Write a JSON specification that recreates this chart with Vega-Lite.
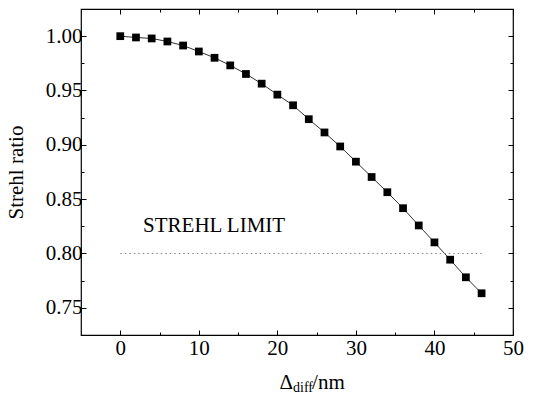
{
  "$schema": "https://vega.github.io/schema/vega-lite/v6.json",
  "width": 432,
  "height": 326,
  "autosize": {"type": "none"},
  "padding": {"left": 81, "top": 9, "right": 26, "bottom": 62},
  "background": "white",
  "config": {
    "view": {"stroke": "black", "strokeWidth": 1.2},
    "font": "Liberation Serif",
    "axis": {
      "domain": false,
      "grid": false,
      "tickColor": "black",
      "tickWidth": 1,
      "labelColor": "black",
      "labelFont": "Liberation Serif",
      "labelFontSize": 21,
      "titleFont": "Liberation Serif",
      "titleFontSize": 21,
      "titleFontWeight": "normal",
      "titleColor": "black"
    }
  },
  "datasets": {
    "strehl": [
      {"delta": 0, "ratio": 1.0},
      {"delta": 2, "ratio": 0.9988},
      {"delta": 4, "ratio": 0.9979},
      {"delta": 6, "ratio": 0.9951},
      {"delta": 8, "ratio": 0.9914},
      {"delta": 10, "ratio": 0.9859},
      {"delta": 12, "ratio": 0.9801},
      {"delta": 14, "ratio": 0.9731},
      {"delta": 16, "ratio": 0.9652},
      {"delta": 18, "ratio": 0.9563},
      {"delta": 20, "ratio": 0.9462},
      {"delta": 22, "ratio": 0.9364},
      {"delta": 24, "ratio": 0.9236},
      {"delta": 26, "ratio": 0.9114},
      {"delta": 28, "ratio": 0.8985},
      {"delta": 30, "ratio": 0.8845},
      {"delta": 32, "ratio": 0.8704},
      {"delta": 34, "ratio": 0.8564},
      {"delta": 36, "ratio": 0.8417},
      {"delta": 38, "ratio": 0.8258},
      {"delta": 40, "ratio": 0.8102},
      {"delta": 42, "ratio": 0.7943},
      {"delta": 44, "ratio": 0.7781},
      {"delta": 46, "ratio": 0.7634}
    ],
    "limit": [
      {"start": 0, "end": 46, "ratio": 0.8}
    ]
  },
  "layer": [
    {
      "data": {"name": "strehl"},
      "mark": {"type": "line", "color": "#333333", "strokeWidth": 1},
      "encoding": {
        "x": {
          "field": "delta", "type": "quantitative",
          "scale": {"domain": [-5, 50], "nice": false, "zero": false},
          "axis": {"orient": "bottom", "values": [0, 10, 20, 30, 40, 50], "tickSize": -5, "labelPadding": 7, "title": null, "labelFlush": false}
        },
        "y": {
          "field": "ratio", "type": "quantitative",
          "scale": {"domain": [0.725, 1.025], "nice": false, "zero": false},
          "axis": {"orient": "left", "values": [0.75, 0.8, 0.85, 0.9, 0.95, 1.0], "format": ".2f", "tickSize": -5, "labelPadding": 4, "title": "Strehl ratio", "titlePadding": 19, "labelFlush": false}
        }
      }
    },
    {
      "data": {"name": "strehl"},
      "mark": {"type": "point", "shape": "square", "filled": true, "color": "black", "size": 60, "opacity": 1},
      "encoding": {
        "x": {"field": "delta", "type": "quantitative", "scale": {"domain": [-5, 50], "nice": false, "zero": false}, "axis": null},
        "y": {"field": "ratio", "type": "quantitative", "scale": {"domain": [0.725, 1.025], "nice": false, "zero": false}, "axis": null}
      }
    },
    {
      "data": {"name": "limit"},
      "mark": {"type": "rule", "color": "#808080", "strokeWidth": 1, "strokeDash": [1.5, 3]},
      "encoding": {
        "x": {
          "field": "start", "type": "quantitative",
          "scale": {"domain": [-5, 50], "nice": false, "zero": false},
          "axis": {"orient": "top", "values": [0, 10, 20, 30, 40, 50], "tickSize": -5, "labels": false, "title": null}
        },
        "x2": {"field": "end"},
        "y": {
          "field": "ratio", "type": "quantitative",
          "scale": {"domain": [0.725, 1.025], "nice": false, "zero": false},
          "axis": {"orient": "right", "values": [0.75, 0.8, 0.85, 0.9, 0.95, 1.0], "tickSize": -5, "labels": false, "title": null}
        }
      }
    },
    {
      "data": {"values": [{}]},
      "mark": {"type": "text", "text": "STREHL LIMIT", "align": "left", "baseline": "alphabetic", "fontSize": 21, "font": "Liberation Serif", "color": "black"},
      "encoding": {
        "x": {
          "datum": 2.9, "type": "quantitative",
          "scale": {"domain": [-5, 50], "nice": false, "zero": false},
          "axis": {"orient": "bottom", "values": [5, 15, 25, 35, 45], "tickSize": -3, "labels": false, "title": null}
        },
        "y": {
          "datum": 0.8195, "type": "quantitative",
          "scale": {"domain": [0.725, 1.025], "nice": false, "zero": false},
          "axis": {"orient": "left", "values": [0.775, 0.825, 0.875, 0.925, 0.975], "tickSize": -3, "labels": false, "title": null}
        }
      }
    },
    {
      "data": {"values": [{}]},
      "mark": {"type": "text", "text": "Δ", "align": "right", "baseline": "alphabetic", "fontSize": 21, "font": "Liberation Serif", "color": "black", "clip": false},
      "encoding": {
        "x": {
          "datum": 22, "type": "quantitative",
          "scale": {"domain": [-5, 50], "nice": false, "zero": false},
          "axis": {"orient": "top", "values": [5, 15, 25, 35, 45], "tickSize": -3, "labels": false, "title": null}
        },
        "y": {
          "datum": 0.6751, "type": "quantitative",
          "scale": {"domain": [0.725, 1.025], "nice": false, "zero": false},
          "axis": {"orient": "right", "values": [0.775, 0.825, 0.875, 0.925, 0.975], "tickSize": -3, "labels": false, "title": null}
        }
      }
    },
    {
      "data": {"values": [{}]},
      "mark": {"type": "text", "text": "diff", "align": "left", "baseline": "alphabetic", "fontSize": 14, "dy": 3, "font": "Liberation Serif", "color": "black", "clip": false},
      "encoding": {
        "x": {"datum": 22, "type": "quantitative", "scale": {"domain": [-5, 50], "nice": false, "zero": false}, "axis": null},
        "y": {"datum": 0.6751, "type": "quantitative", "scale": {"domain": [0.725, 1.025], "nice": false, "zero": false}, "axis": null}
      }
    },
    {
      "data": {"values": [{}]},
      "mark": {"type": "text", "text": "/nm", "align": "left", "baseline": "alphabetic", "fontSize": 21, "dx": 19, "font": "Liberation Serif", "color": "black", "clip": false},
      "encoding": {
        "x": {"datum": 22, "type": "quantitative", "scale": {"domain": [-5, 50], "nice": false, "zero": false}, "axis": null},
        "y": {"datum": 0.6751, "type": "quantitative", "scale": {"domain": [0.725, 1.025], "nice": false, "zero": false}, "axis": null}
      }
    }
  ],
  "resolve": {"axis": {"x": "independent", "y": "independent"}}
}
